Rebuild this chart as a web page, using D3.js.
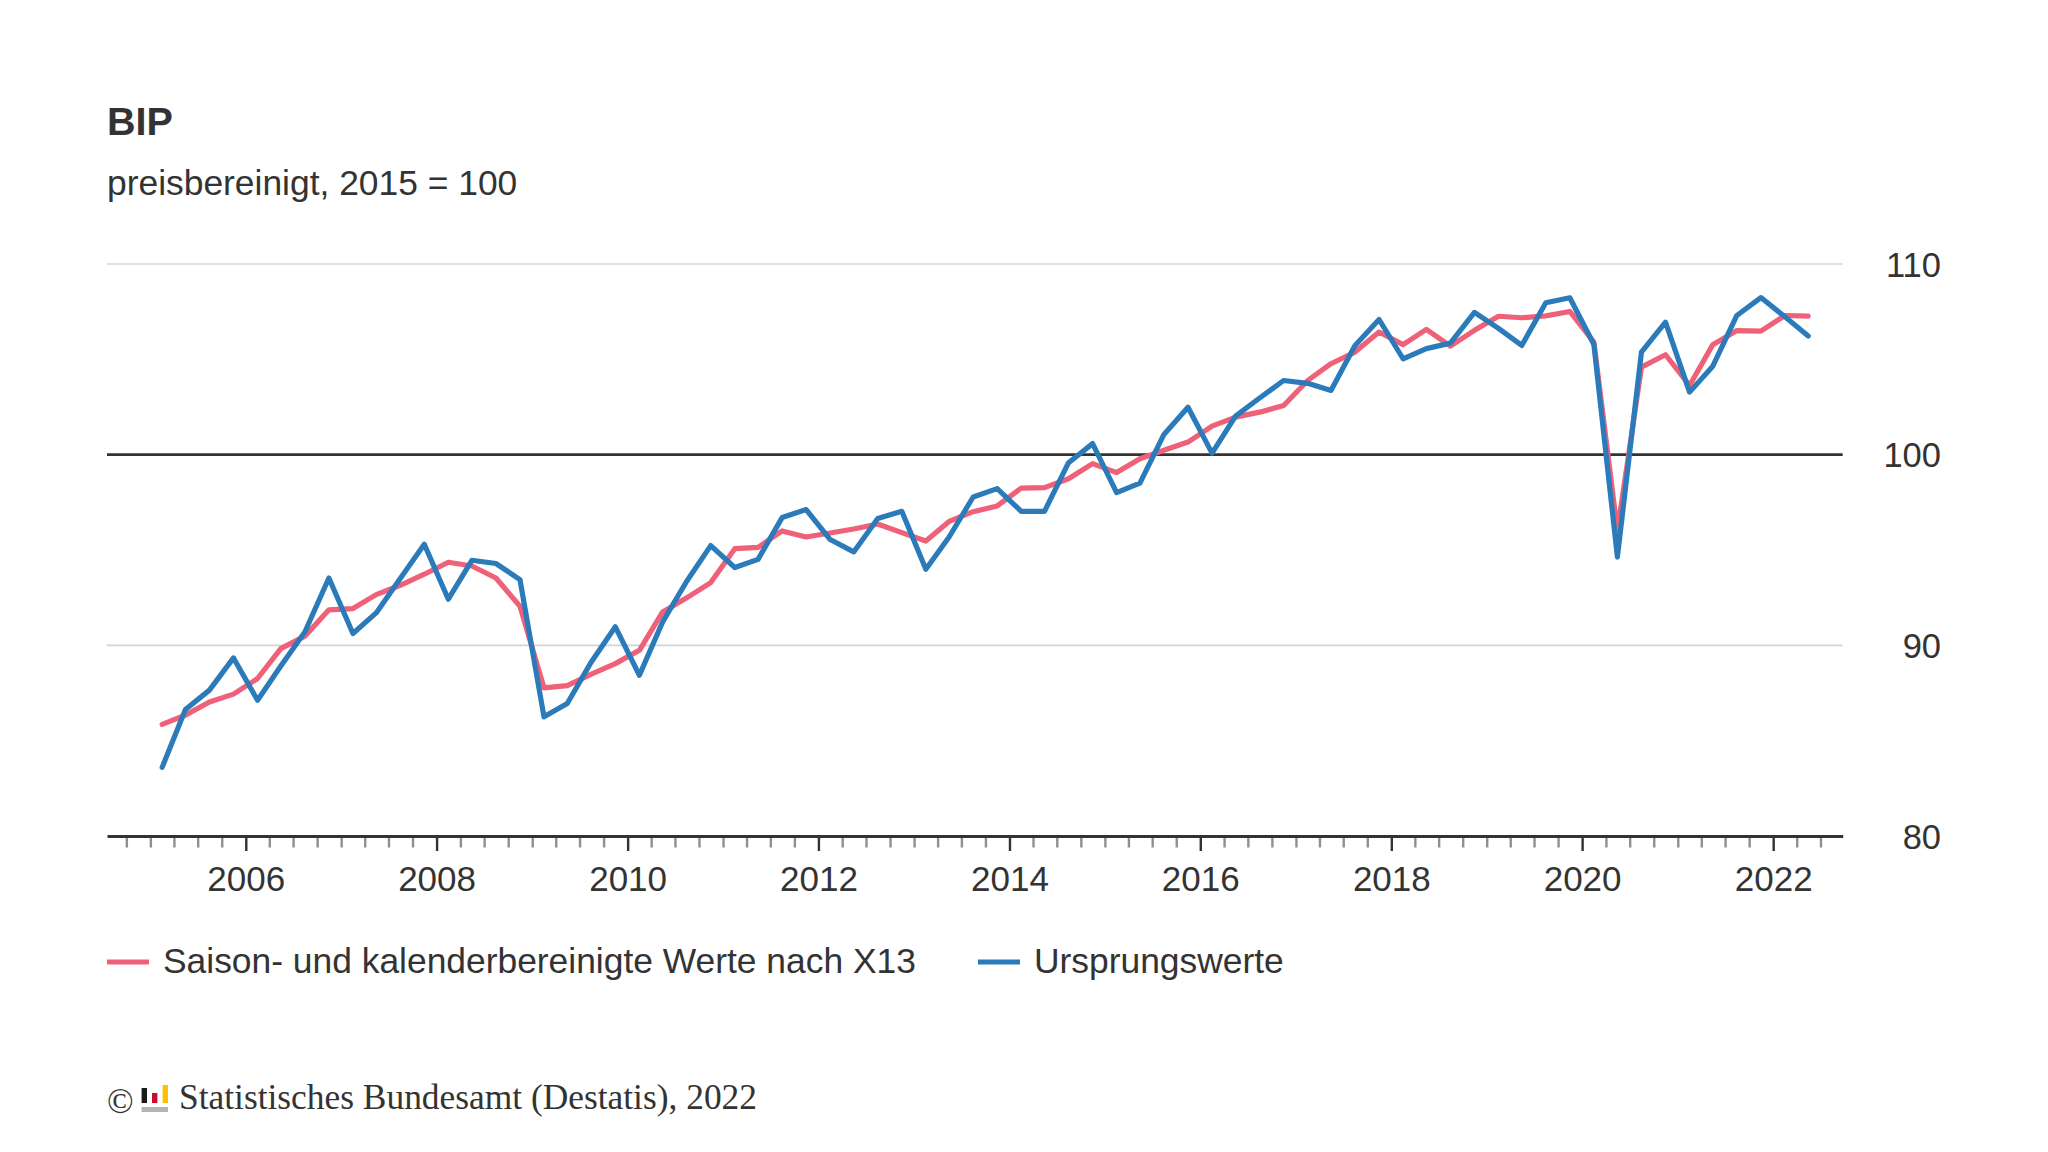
<!DOCTYPE html>
<html lang="de">
<head>
<meta charset="utf-8">
<title>BIP</title>
<script src="https://cdn.jsdelivr.net/npm/d3@7/dist/d3.min.js"></script>
<style>
html,body{margin:0;padding:0;background:#fff;}
svg{display:block;}
text{fill:#333;font-family:"Liberation Sans",Arial,sans-serif;}
.serif{font-family:"Liberation Serif","Times New Roman",serif;}
</style>
</head>
<body>
<svg id="chart" width="2048" height="1152" viewBox="0 0 2048 1152"></svg>
<script>
const title = "BIP";
const subtitle = "preisbereinigt, 2015 = 100";
const seriesNames = ["Saison- und kalenderbereinigte Werte nach X13", "Ursprungswerte"];
const seriesColors = ["#ef6079", "#2b7bba"];
const source = "Statistisches Bundesamt (Destatis), 2022";
const yTickValues = [80, 90, 100, 110];
const xTickYears = [2006, 2008, 2010, 2012, 2014, 2016, 2018, 2020, 2022];
const firstYear = 2005;

const adjusted = [
  85.85, 86.34, 87.03, 87.44, 88.26, 89.83, 90.48, 91.86, 91.93, 92.66,
  93.15, 93.73, 94.36, 94.16, 93.53, 92.05, 87.77, 87.89, 88.49, 89.04,
  89.74, 91.75, 92.49, 93.29, 95.07, 95.14, 96.00, 95.68, 95.89, 96.10,
  96.36, 95.91, 95.47, 96.50, 97.01, 97.31, 98.25, 98.27, 98.74, 99.53,
  99.06, 99.79, 100.23, 100.66, 101.50, 101.97, 102.23, 102.58, 103.89, 104.77,
  105.38, 106.43, 105.77, 106.57, 105.69, 106.52, 107.26, 107.18, 107.28, 107.51,
  105.90, 96.00, 104.59, 105.24, 103.63, 105.77, 106.51, 106.48, 107.30, 107.27
];

const original = [
  83.60, 86.63, 87.65, 89.34, 87.12, 88.92, 90.70, 93.53, 90.62, 91.70,
  93.50, 95.30, 92.42, 94.46, 94.29, 93.45, 86.25, 86.95, 89.13, 90.97,
  88.43, 91.23, 93.36, 95.23, 94.08, 94.51, 96.70, 97.12, 95.55, 94.90,
  96.65, 97.03, 93.99, 95.68, 97.78, 98.22, 97.03, 97.03, 99.58, 100.58,
  98.01, 98.51, 101.06, 102.49, 100.08, 102.02, 102.97, 103.89, 103.74, 103.37,
  105.73, 107.09, 105.03, 105.56, 105.85, 107.46, 106.62, 105.73, 107.97, 108.23,
  105.78, 94.63, 105.38, 106.95, 103.28, 104.64, 107.30, 108.24, 107.23, 106.22
];

const midQuarter = i => new Date(firstYear, 3 * i + 1, 15);
const svg = d3.select("#chart");

const x = d3.scaleTime()
  .domain([new Date(2004, 6, 19), new Date(2022, 8, 24)])
  .range([107, 1842.7]);
const y = d3.scaleLinear().domain([80, 110]).range([836, 264]);

// Title block
svg.append("text").attr("x", 107).attr("y", 135)
  .attr("font-size", 39.5).attr("font-weight", 700).text(title);
svg.append("text").attr("x", 107).attr("y", 195)
  .attr("font-size", 35.4).text(subtitle);

// Horizontal reference lines
svg.append("g").selectAll("line")
  .data(yTickValues.filter(v => v !== 80))
  .join("line")
  .attr("x1", x.range()[0]).attr("x2", x.range()[1])
  .attr("y1", d => y(d)).attr("y2", d => y(d))
  .attr("stroke", d => d === 100 ? "#333" : "#d4d4d4")
  .attr("stroke-width", d => d === 100 ? 2.8 : 1.6);

// Value labels
svg.append("g").selectAll("text")
  .data(yTickValues)
  .join("text")
  .attr("x", 1941).attr("y", d => y(d))
  .attr("dy", "0.37em")
  .attr("text-anchor", "end")
  .attr("font-size", 34.5)
  .text(d => d);

// Quarterly minor ticks
const quarterTicks = d3.timeMonth.every(3).range(x.domain()[0], x.domain()[1])
  .filter(d => !(d.getMonth() === 0 && xTickYears.includes(d.getFullYear())));
const minorAxis = d3.axisBottom(x).tickValues(quarterTicks).tickSize(11.5).tickFormat("");
const gMinor = svg.append("g").attr("transform", `translate(0,${y(80)})`).call(minorAxis);
gMinor.select(".domain").remove();
gMinor.selectAll("line").attr("stroke", "#8f8f8f").attr("stroke-width", 2.4);

// Yearly major ticks
const majorAxis = d3.axisBottom(x)
  .tickValues(xTickYears.map(yr => new Date(yr, 0, 1)))
  .tickSize(15)
  .tickSizeOuter(0)
  .tickPadding(15.5)
  .tickFormat(d3.timeFormat("%Y"));
const gMajor = svg.append("g").attr("transform", `translate(0,${y(80)})`).call(majorAxis);
gMajor.select(".domain").attr("stroke", "#333").attr("stroke-width", 2.8);
gMajor.selectAll("line").attr("stroke", "#333").attr("stroke-width", 2.4);
gMajor.selectAll("text").attr("font-size", 35).attr("font-family", '"Liberation Sans",Arial,sans-serif').attr("fill", "#333");

// Data lines
const line = d3.line()
  .x((d, i) => x(midQuarter(i)))
  .y(d => y(d));
svg.append("g").selectAll("path")
  .data([adjusted, original])
  .join("path")
  .attr("d", d => line(d))
  .attr("fill", "none")
  .attr("stroke", (d, i) => seriesColors[i])
  .attr("stroke-width", 5.2)
  .attr("stroke-linejoin", "round")
  .attr("stroke-linecap", "round");

// Legend
const legendX = d3.scaleOrdinal().domain(seriesNames).range([107, 978]);
const legend = svg.append("g").selectAll("g").data(seriesNames).join("g")
  .attr("transform", d => `translate(${legendX(d)},962)`);
legend.append("line").attr("x1", 0).attr("x2", 42)
  .attr("stroke", (d, i) => seriesColors[i]).attr("stroke-width", 5);
legend.append("text").attr("x", 56).attr("y", 11)
  .attr("font-size", 35.4).text(d => d);

// Source line
svg.append("text").attr("class", "serif").attr("x", 107).attr("y", 1113)
  .attr("font-size", 35).text("©");
const logo = svg.append("g");
const logoBars = [
  {fill: "#1a1a1a", x: 141.6, y: 1088, w: 5.4, h: 15},
  {fill: "#c8102e", x: 152, y: 1093, w: 5.4, h: 10},
  {fill: "#ffc000", x: 162.6, y: 1085, w: 5.4, h: 18},
  {fill: "#b3b3b3", x: 141.6, y: 1107, w: 26.4, h: 5}
];
logo.selectAll("rect").data(logoBars).join("rect")
  .attr("x", d => d.x).attr("y", d => d.y).attr("width", d => d.w).attr("height", d => d.h)
  .attr("fill", d => d.fill);
svg.append("text").attr("class", "serif").attr("x", 179).attr("y", 1109)
  .attr("font-size", 35.4).text(source);
</script>
</body>
</html>
